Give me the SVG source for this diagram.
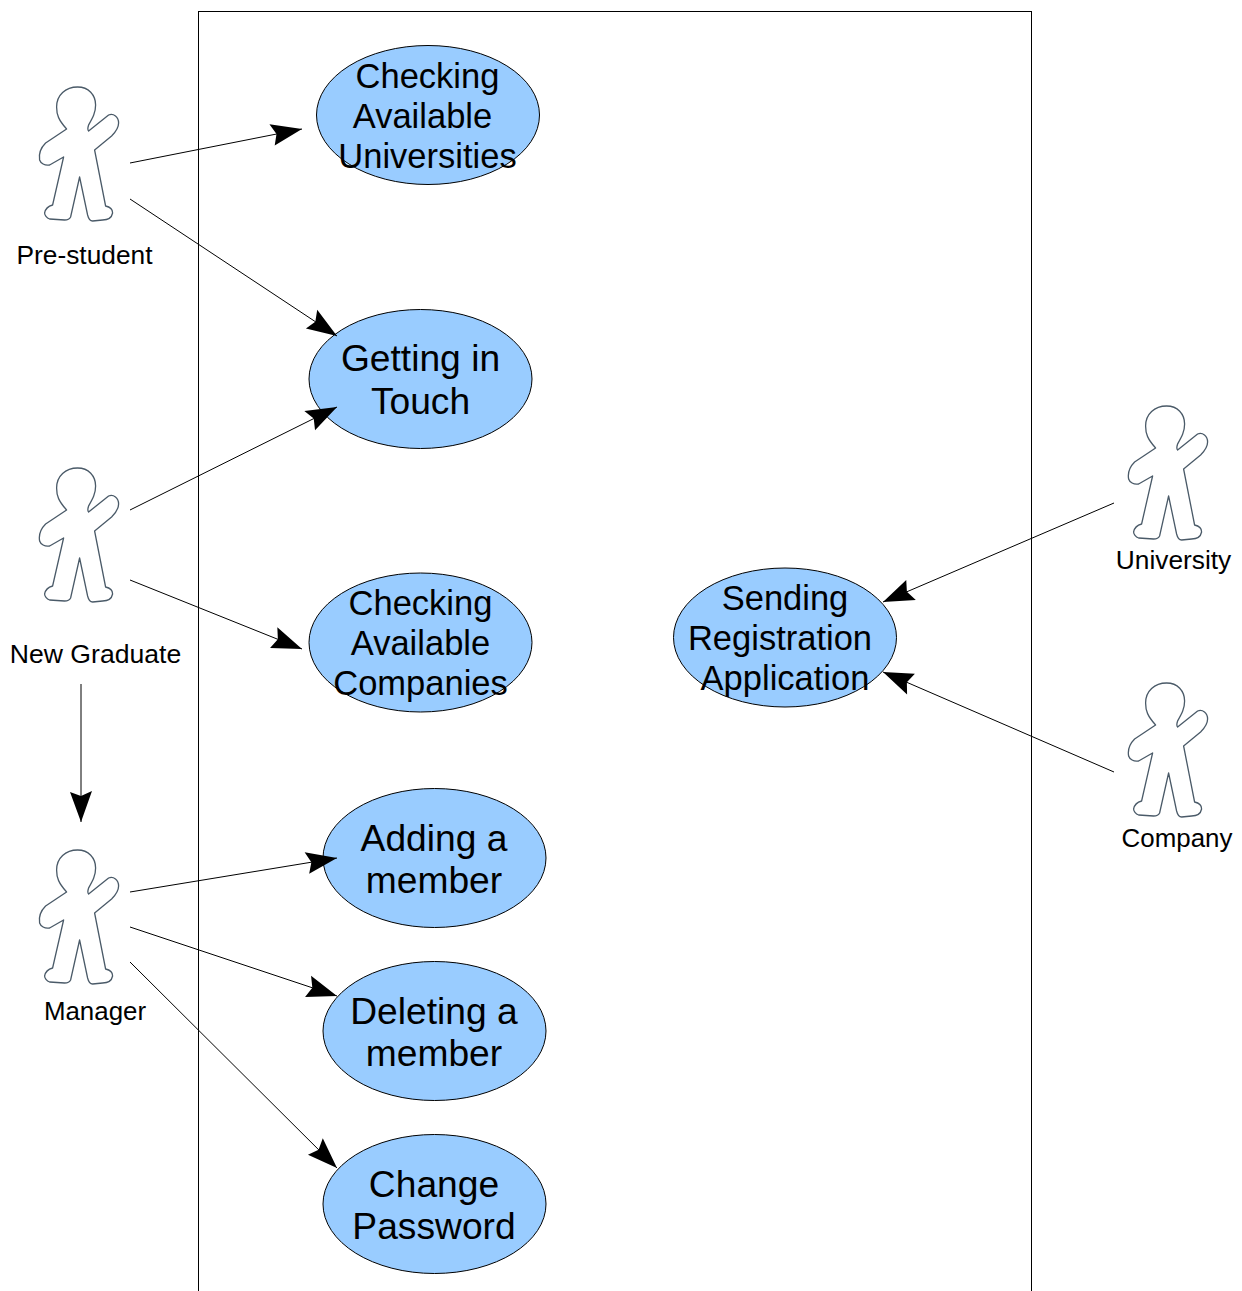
<svg xmlns="http://www.w3.org/2000/svg" width="1242" height="1291" viewBox="0 0 1242 1291">
<style>
text{font-family:"Liberation Sans",Arial,sans-serif;fill:#000;text-anchor:middle}
.uc{fill:#99ccff;stroke:#000;stroke-width:1}
.s{font-size:34.5px}
.l{font-size:37.2px}
.a{font-size:26.3px}
.b{font-size:25.900px}
.c{stroke:#000;stroke-width:1;fill:none;marker-end:url(#ah)}
.fig{fill:#fff;stroke:#4a5a68;stroke-width:1.3;stroke-linejoin:round}
</style>
<defs>
<marker id="ah" markerUnits="userSpaceOnUse" markerWidth="40" markerHeight="30" refX="31" refY="11.500" orient="auto" overflow="visible">
<path d="M0 0.500L31 11.500L1 22.500L5 11.500Z" fill="#000"/>
</marker>
<symbol id="figure" overflow="visible" width="1" height="1">
<path class="fig" d="M46 59C38 50 36 45 36 37C36 25 45 17 57 17C68 17 75 25 75 35C75 43 72 48 68 55C67 58 67 60 68 61L88 45C93 43 98 47 98 53C98 59 94 63 91 66L74 80L85 136C90 137 92 140 92 143C91 148 88 150 82 150L72 151C70 151 68 149 67 145L59 107L50 147C49 149 47 150 44 150L29 149C26 148 24 145 24 143C25 138 28 136 32 135L43 87L29 95C24 96 20 93 19 90C18 84 20 78 25 73L46 59Z"/>
</symbol>
</defs>
<rect id="boundary" x="198.500" y="11.500" width="833" height="1300" fill="#fff" stroke="#000" stroke-width="1"/>
<g id="uc1"><ellipse class="uc" cx="428" cy="115" rx="111.500" ry="69.500"/><text class="s" x="427.500" y="88">Checking</text><text class="s" x="422.500" y="128">Available</text><text class="s" x="427.500" y="168">Universities</text></g>
<g id="uc2"><ellipse class="uc" cx="420.500" cy="379" rx="111.500" ry="69.500"/><text class="l" x="420.500" y="371">Getting in</text><text class="l" x="420.500" y="414">Touch</text></g>
<g id="uc3"><ellipse class="uc" cx="420.500" cy="642.500" rx="111.500" ry="69.500"/><text class="s" x="420.500" y="615">Checking</text><text class="s" x="420.500" y="655">Available</text><text class="s" x="420.500" y="695">Companies</text></g>
<g id="uc4"><ellipse class="uc" cx="434.500" cy="858" rx="111.500" ry="69.500"/><text class="l" x="434" y="850.500">Adding a</text><text class="l" x="434" y="893">member</text></g>
<g id="uc5"><ellipse class="uc" cx="434.500" cy="1031" rx="111.500" ry="69.500"/><text class="l" x="434" y="1023.500">Deleting a</text><text class="l" x="434" y="1066">member</text></g>
<g id="uc6"><ellipse class="uc" cx="434.500" cy="1204" rx="111.500" ry="69.500"/><text class="l" x="434" y="1197">Change</text><text class="l" x="434" y="1239">Password</text></g>
<g id="uc7"><ellipse class="uc" cx="785" cy="637.500" rx="111.500" ry="69.500"/><text class="s" x="785" y="610">Sending</text><text class="s" x="780" y="650">Registration</text><text class="s" x="785" y="690">Application</text></g>
<g id="actor-prestudent"><use href="#figure" x="20.600" y="70"/><text class="a" x="84.500" y="263.500">Pre-student</text></g>
<g id="actor-newgraduate"><use href="#figure" x="20.600" y="451"/><text class="a" x="95.500" y="663" style="font-size:26.600px">New Graduate</text></g>
<g id="actor-manager"><use href="#figure" x="20.600" y="833"/><text class="b" x="95" y="1020">Manager</text></g>
<g id="actor-university"><use href="#figure" x="1109.600" y="389"/><text class="a" x="1173.500" y="569">University</text></g>
<g id="actor-company"><use href="#figure" x="1109.600" y="666"/><text class="b" x="1177" y="847">Company</text></g>
<g id="connectors">
<line class="c" x1="130" y1="163" x2="302" y2="129"/>
<line class="c" x1="130" y1="199" x2="337" y2="336"/>
<line class="c" x1="130" y1="510" x2="337" y2="407"/>
<line class="c" x1="130" y1="580" x2="302" y2="649"/>
<line class="c" x1="81" y1="684" x2="81" y2="822"/>
<line class="c" x1="130" y1="892" x2="337" y2="858"/>
<line class="c" x1="130" y1="927" x2="337" y2="996"/>
<line class="c" x1="130" y1="962" x2="337" y2="1168"/>
<line class="c" x1="1114" y1="503" x2="883" y2="602"/>
<line class="c" x1="1114" y1="772" x2="883" y2="672"/>
</g>
</svg>
